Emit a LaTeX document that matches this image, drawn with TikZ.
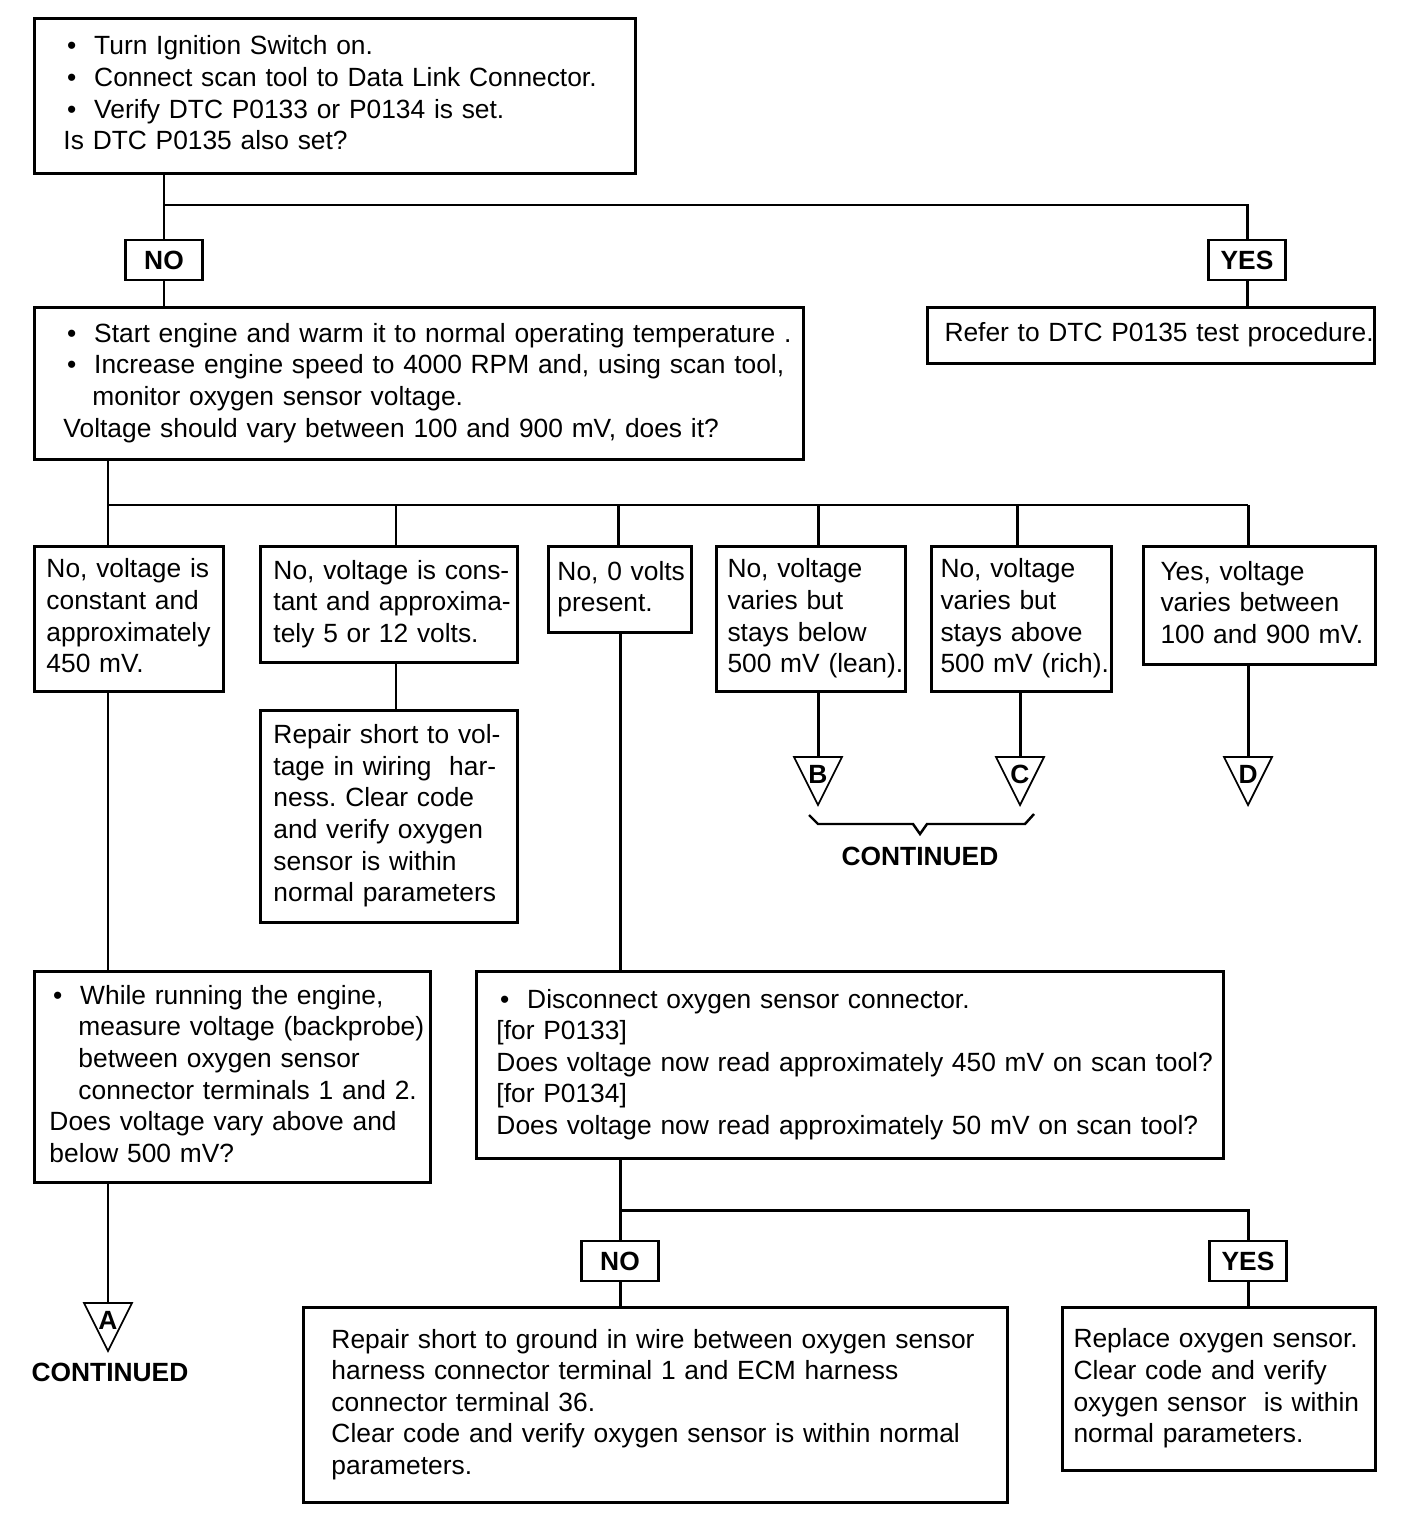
\documentclass[tikz,border=0pt]{standalone}
\usepackage{fontspec}
\setmainfont{Liberation Sans}
\frenchspacing
\newcommand{\itm}{\makebox[17.5pt][l]{\hspace{2pt}\textbullet}}
\newcommand{\ind}{\hspace*{16.5pt}}
\newcommand{\lns}[1]{\begin{tabular}{@{}l@{}}#1\end{tabular}}
\tikzset{
  box/.style={draw, line width=1.7pt, anchor=north west, align=left, inner ysep=0pt, font=\fontsize{15}{18}\selectfont\frenchspacing},
  lbl/.style={draw, line width=1.3pt, minimum width=1.54cm, minimum height=0.8cm, inner sep=0pt, font=\fontsize{15}{18}\selectfont\bfseries},
  link/.style={line width=1.7pt},
  cont/.style={font=\fontsize{15}{18}\selectfont\bfseries}
}
\begin{document}
\begin{tikzpicture}[x=0.02cm, y=-0.02cm]
\fill[white] (0,0) rectangle (1408,1514);
\useasboundingbox (0,0) rectangle (1408,1514);

% first check
\node[box, text width=10.86cm, inner xsep=0.58cm, minimum height=3.10cm] (start) at (33,17)
  {\lns{\itm Turn Ignition Switch on.\\ \itm Connect scan tool to Data Link Connector.\\ \itm Verify DTC P0133 or P0134 is set.\\ Is DTC P0135 also set?}};
\node[lbl] (no1) at (164,260) {NO};
\node[lbl] (yes1) at (1247,260) {YES};
\node[box, text width=14.22cm, inner xsep=0.58cm, minimum height=3.04cm] (engine) at (33,306)
  {\lns{\itm Start engine and warm it to normal operating temperature .\\ \itm Increase engine speed to 4000 RPM and, using scan tool,\\ \ind monitor oxygen sensor voltage.\\ Voltage should vary between 100 and 900 mV, does it?}};
\node[box, text width=8.26cm, inner xsep=0.34cm, minimum height=1.12cm] (refer) at (926,306)
  {\lns{Refer to DTC P0135 test procedure.}};

% voltage readings
\node[box, text width=3.30cm, inner xsep=0.24cm, minimum height=2.90cm] (c450) at (33,545)
  {\lns{No, voltage is\\ constant and\\ approximately\\ 450 mV.}};
\node[box, text width=4.62cm, inner xsep=0.26cm, minimum height=2.32cm] (c5v) at (259,545)
  {\lns{No, voltage is cons-\\ tant and approxima-\\ tely 5 or 12 volts.}};
\node[box, text width=2.50cm, inner xsep=0.18cm, minimum height=1.72cm] (zero) at (547,545)
  {\lns{No, 0 volts\\ present.}};
\node[box, text width=3.34cm, inner xsep=0.22cm, minimum height=2.90cm] (lean) at (715,545)
  {\lns{No, voltage\\ varies but\\ stays below\\ 500 mV (lean).}};
\node[box, text width=3.24cm, inner xsep=0.18cm, minimum height=2.90cm] (rich) at (930,545)
  {\lns{No, voltage\\ varies but\\ stays above\\ 500 mV (rich).}};
\node[box, text width=3.96cm, inner xsep=0.34cm, minimum height=2.36cm] (ok) at (1142,545)
  {\lns{Yes, voltage\\ varies between\\ 100 and 900 mV.}};
\node[box, text width=4.62cm, inner xsep=0.26cm, minimum height=4.24cm] (short) at (259,709)
  {\lns{Repair short to vol-\\ tage in wiring~~har-\\ ness. Clear code\\ and verify oxygen\\ sensor is within\\ normal parameters}};

% further checks
\node[box, text width=7.32cm, inner xsep=0.30cm, minimum height=4.22cm] (backprobe) at (33,970)
  {\lns{\itm While running the engine,\\ \ind measure voltage (backprobe)\\ \ind between oxygen sensor\\ \ind connector terminals 1 and 2.\\ Does voltage vary above and\\ below 500 mV?}};
\node[box, text width=14.14cm, inner xsep=0.40cm, minimum height=3.74cm] (disconnect) at (475,970)
  {\lns{\itm Disconnect oxygen sensor connector.\\ {[}for P0133{]}\\ Does voltage now read approximately 450 mV on scan tool?\\ {[}for P0134{]}\\ Does voltage now read approximately 50 mV on scan tool?}};
\node[lbl] (no2) at (620,1261) {NO};
\node[lbl] (yes2) at (1248,1261) {YES};
\node[box, text width=12.96cm, inner xsep=0.56cm, minimum height=3.90cm] (ground) at (302,1306)
  {\lns{Repair short to ground in wire between oxygen sensor\\ harness connector terminal 1 and ECM harness\\ connector terminal 36.\\ Clear code and verify oxygen sensor is within normal\\ parameters.}};
\node[box, text width=5.82cm, inner xsep=0.22cm, minimum height=3.26cm] (replace) at (1061,1306)
  {\lns{Replace oxygen sensor.\\ Clear code and verify\\ oxygen sensor~~is within\\ normal parameters.}};

% continuation marks
\foreach \n/\x/\y in {A/108/1303,B/818/757,C/1020/757,D/1248/757}{
  \coordinate (tri\n) at (\x,\y);
  \draw[line width=1pt] (tri\n) ++(-24,0) -- ++(48,0) -- ++(-24,48) -- cycle;
  \node[cont] (m\n) at (\x,\y+17) {\n};
}
\draw[line width=1.4pt] (809,815) -- (818,824) -- (913,824) -- (920,834) -- (927,824) -- (1025,824) -- (1034,814);
\node[cont] (contBC) at (920,856) {CONTINUED};
\node[cont] (contA) at (110,1372) {CONTINUED};

% connectors
\coordinate (j1) at (164,205);
\draw[link] (no1 |- start.south) -- (no1.north);
\draw[link] (j1) -| (yes1.north);
\draw[link] (no1.south) -- (no1 |- engine.north);
\draw[link] (yes1.south) -- (yes1 |- refer.north);
\foreach \x/\n in {108/c450,396/c5v,618/zero,818/lean,1017/rich,1248/ok}{
  \coordinate (t\n) at (\x,505);
  \draw[link] (t\n) -- (t\n |- \n.north);
}
\draw[link] (tc450 |- engine.south) -- (tc450) -- (tok);
\draw[link] (tc5v |- c5v.south) -- (tc5v |- short.north);
\draw[link] (triB |- lean.south) -- (triB);
\draw[link] (triC |- rich.south) -- (triC);
\draw[link] (triD |- ok.south) -- (triD);
\draw[link] (tc450 |- c450.south) -- (tc450 |- backprobe.north);
\draw[link] (triA |- backprobe.south) -- (triA);
\draw[link] (no2 |- zero.south) -- (no2 |- disconnect.north);
\coordinate (j3) at (620,1210);
\draw[link] (no2 |- disconnect.south) -- (no2.north);
\draw[link] (j3) -| (yes2.north);
\draw[link] (no2.south) -- (no2 |- ground.north);
\draw[link] (yes2.south) -- (yes2 |- replace.north);
\end{tikzpicture}
\end{document}
